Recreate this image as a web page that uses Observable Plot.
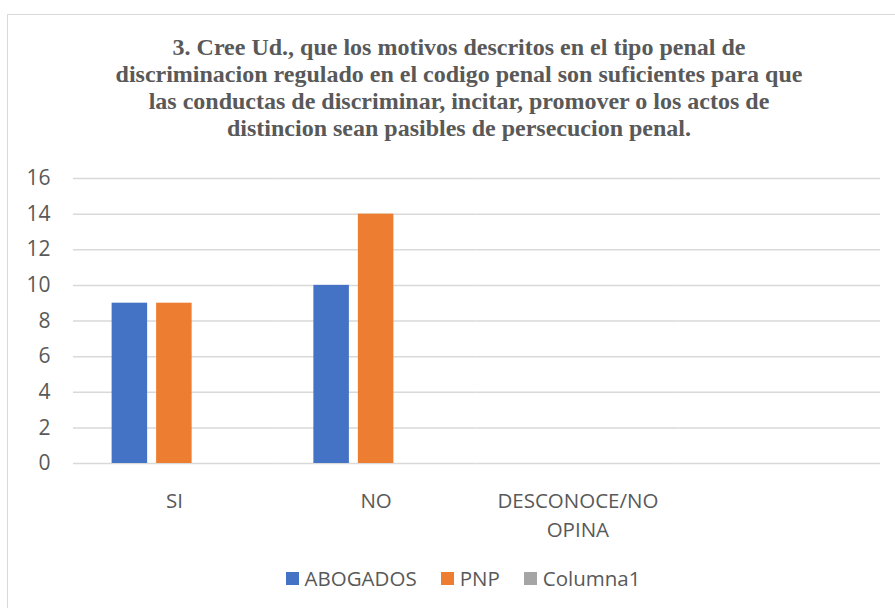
<!DOCTYPE html>
<html>
<head>
<meta charset="utf-8">
<script src="https://cdn.jsdelivr.net/npm/d3@7"></script>
<script src="https://cdn.jsdelivr.net/npm/@observablehq/plot@0.6"></script>
<style>
  html, body { margin: 0; padding: 0; background: #fff; }
  body { width: 895px; height: 608px; position: relative; overflow: hidden; }
  #frame { position: absolute; left: 7px; top: 14px; width: 1000px; height: 700px; border: 1px solid #d9d9d9; box-sizing: border-box; }
  #title { position: absolute; left: 0; top: 34px; width: 918px; text-align: center;
    font-family: "Liberation Serif", "Tinos", "Times New Roman", "DejaVu Serif", serif; font-weight: 700; font-size: 24px;
    line-height: 27px; color: #595959; }
  #chart { position: absolute; left: 0; top: 150px; }
  #legend { position: absolute; left: 0; top: 564px; width: 926px; display: flex; justify-content: center;
    font-family: "Open Sans", sans-serif; font-size: 20.5px; color: #595959; }
  .item { display: flex; align-items: center; margin: 0 12px; }
  .sw { width: 13px; height: 13px; margin-right: 6px; }
</style>
</head>
<body>
<div id="frame"></div>
<div id="title">3. Cree Ud., que los motivos descritos en el tipo penal de<br>discriminacion regulado en el codigo penal son suficientes para que<br>las conductas de discriminar, incitar, promover o los actos de<br>distincion sean pasibles de persecucion penal.</div>
<div id="chart"></div>
<div id="legend"></div>
<script>
const categories = ["SI", "NO", "DESCONOCE/NO OPINA", " "];
const categoryLabels = ["SI", "NO", "DESCONOCE/NO\nOPINA", ""];
const series = ["ABOGADOS", "PNP", "Columna1"];
const colors = ["#4472C4", "#ED7D31", "#A5A5A5"];
const abogados = [9, 10, 0];
const pnp = [9, 14, 0];
const columna1 = [0, 0, 0];
const yTicks = [0, 2, 4, 6, 8, 10, 12, 14, 16];

const values = [abogados, pnp, columna1];
const rows = [];
series.forEach((s, si) => {
  values[si].forEach((v, ci) => rows.push({cat: categories[ci], series: s, value: v}));
});
const gridRows = categories.flatMap(c => yTicks.map(t => ({cat: c, tick: t})));

const chart = Plot.plot({
  width: 895,
  height: 400,
  marginLeft: 73,
  marginRight: 15,
  marginTop: 28,
  marginBottom: 87,
  style: {fontFamily: "Open Sans, sans-serif", fontSize: "20.5px", color: "#595959", background: "transparent"},
  fx: {domain: categories, padding: 0, round: false, label: null},
  x: {domain: series, axis: null, paddingInner: 0.202, paddingOuter: 0.868, round: false},
  y: {domain: [0, 16], label: null},
  color: {domain: series, range: colors},
  marks: [
    Plot.ruleY(gridRows, {fx: "cat", y: "tick", stroke: "#d9d9d9", strokeWidth: 1.5}),
    Plot.barY(rows, {fx: "cat", x: "series", y: "value", fill: "series"}),
    Plot.axisY({ticks: yTicks, tickSize: 0, tickPadding: 23, label: null, fontSize: 21, fill: "#595959"}),
    Plot.axisFx({anchor: "bottom", tickSize: 0, tickPadding: 24, label: null, fontSize: 20.5, lineHeight: 1.42, fill: "#595959",
      tickFormat: d => categoryLabels[categories.indexOf(d)]})
  ]
});
document.getElementById("chart").appendChild(chart);

const legend = document.getElementById("legend");
series.forEach((s, i) => {
  const item = document.createElement("div");
  item.className = "item";
  const sw = document.createElement("div");
  sw.className = "sw";
  sw.style.background = colors[i];
  const t = document.createElement("span");
  t.textContent = s;
  item.appendChild(sw);
  item.appendChild(t);
  legend.appendChild(item);
});
</script>
</body>
</html>
